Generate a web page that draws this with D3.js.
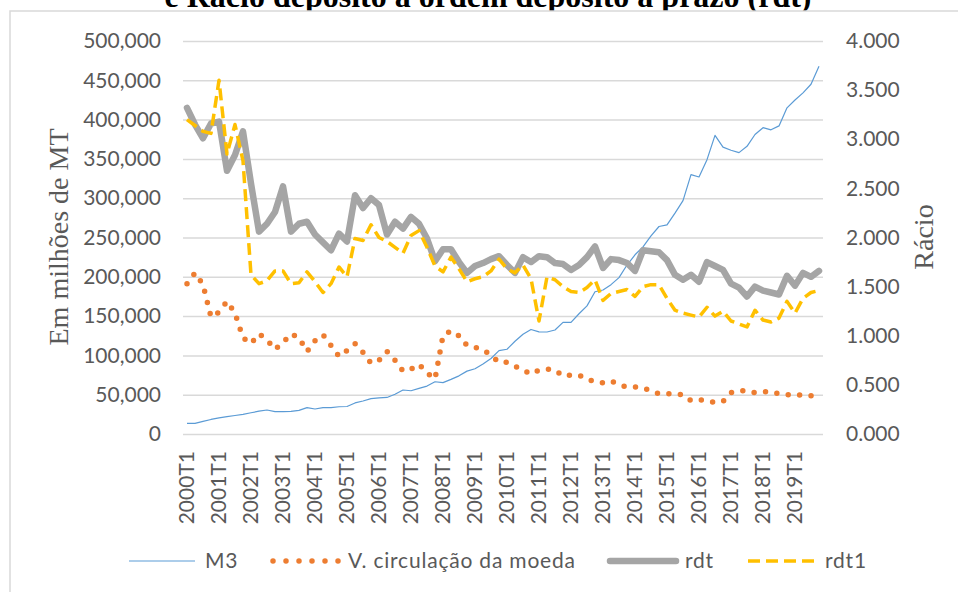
<!DOCTYPE html>
<html>
<head>
<meta charset="utf-8">
<script src="https://cdn.jsdelivr.net/npm/d3@7"></script>
<style>
  body { margin: 0; background: #fff; }
  svg { display: block; }
</style>
</head>
<body>
<div id="chart"></div>
<script>

// quarters 2000T1 .. 2019T4
var years = d3.range(2000, 2020);
var quarters = [];
years.forEach(function(yr) {
  ["T1", "T2", "T3", "T4"].forEach(function(q) { quarters.push(yr + q); });
});

// M3, em milhões de MT (eixo esquerdo)
var m3 = [13600,13600,16000,18500,20500,22000,23500,25000,27000,29000,
          30500,28500,28500,28800,30000,33500,31800,33500,33500,34700,
          35000,39500,42000,45000,46000,46500,50500,56000,55000,58000,
          61000,66500,65300,69500,74000,80000,83000,89000,96000,106000,
          107800,118000,127000,133000,130000,129800,132300,142000,142100,153000,
          163000,181000,183200,190000,199000,215000,228000,238000,252000,264000,
          266000,281000,297000,330000,327000,349000,380000,365000,361000,358000,
          366000,381000,389700,387000,392000,415000,425000,434000,445000,468000];

// velocidade de circulação da moeda (eixo direito)
var velocidade = [1.53,1.64,1.52,1.19,1.24,1.35,1.23,0.98,0.92,1.02,
                  0.96,0.86,0.93,1.02,0.98,0.84,0.95,1.01,0.90,0.79,
                  0.85,0.92,0.83,0.72,0.75,0.84,0.75,0.64,0.66,0.71,
                  0.62,0.56,1.00,1.05,1.00,0.90,0.88,0.86,0.80,0.73,
                  0.73,0.69,0.65,0.61,0.65,0.66,0.65,0.59,0.60,0.60,
                  0.56,0.53,0.52,0.54,0.50,0.48,0.48,0.47,0.44,0.41,
                  0.41,0.41,0.40,0.34,0.35,0.34,0.32,0.33,0.42,0.44,
                  0.44,0.42,0.43,0.43,0.41,0.40,0.39,0.40,0.39,0.37];

// rácio depósito à ordem / depósito a prazo
var rdt = [3.32,3.15,3.01,3.16,3.18,2.68,2.84,3.08,2.55,2.06,
           2.14,2.26,2.52,2.06,2.14,2.16,2.03,1.95,1.87,2.04,
           1.96,2.43,2.30,2.40,2.33,2.03,2.16,2.09,2.21,2.14,
           1.99,1.76,1.88,1.88,1.75,1.64,1.71,1.74,1.78,1.81,
           1.72,1.64,1.80,1.75,1.81,1.80,1.74,1.73,1.67,1.72,
           1.80,1.91,1.69,1.78,1.77,1.74,1.66,1.87,1.86,1.85,
           1.77,1.62,1.57,1.62,1.55,1.75,1.71,1.67,1.53,1.49,
           1.40,1.50,1.46,1.44,1.42,1.61,1.51,1.64,1.60,1.66];

var rdt1 = [3.20,3.14,3.08,3.06,3.60,2.85,3.15,2.78,1.62,1.53,
            1.56,1.66,1.66,1.53,1.54,1.65,1.55,1.44,1.53,1.70,
            1.60,1.99,1.97,2.13,2.00,1.96,1.90,1.84,2.02,2.07,
            1.90,1.71,1.65,1.80,1.68,1.55,1.58,1.60,1.66,1.78,
            1.68,1.64,1.72,1.58,1.15,1.60,1.57,1.50,1.45,1.44,
            1.49,1.57,1.36,1.43,1.45,1.47,1.40,1.50,1.52,1.52,
            1.38,1.26,1.23,1.21,1.19,1.29,1.20,1.25,1.15,1.12,
            1.09,1.26,1.16,1.14,1.18,1.35,1.23,1.38,1.44,1.46];

var leftTicks = [0,50000,100000,150000,200000,250000,300000,350000,400000,450000,500000];
var rightTicks = [0,0.5,1,1.5,2,2.5,3,3.5,4];
var xTicks = years.map(function(yr) { return yr + "T1"; });

var W = 958, H = 592;
var plot = {left: 183, right: 823, top: 41, bottom: 434};
var labelFont = "Lato, 'Open Sans', sans-serif";
var grey = "#595959";

var svg = d3.select("#chart")
  .append("svg")
    .attr("width", W)
    .attr("height", H);

// title, bottom line only (top is cut off in the source)
svg.append("text")
  .attr("x", 488)
  .attr("y", 7)
  .attr("text-anchor", "middle")
  .style("font-family", "'Liberation Serif', 'Times New Roman', serif")
  .style("font-weight", "bold")
  .style("font-size", "32px")
  .text("e Rácio depósito à ordem depósito a prazo (rdt)");

// chart frame
svg.append("rect")
  .attr("x", 10).attr("y", 11)
  .attr("width", 1000).attr("height", 1000)
  .attr("fill", "#fff")
  .attr("stroke", "#d9d9d9")
  .attr("stroke-width", 1.5);

var x = d3.scaleBand()
  .domain(quarters)
  .range([plot.left, plot.right]);

var yLeft = d3.scaleLinear()
  .domain([0, 500000])
  .range([plot.bottom, plot.top]);

var yRight = d3.scaleLinear()
  .domain([0, 4])
  .range([plot.bottom, plot.top]);

function cx(d, i) { return x(quarters[i]) + x.bandwidth() / 2; }

// left axis + gridlines
var gl = svg.append("g")
  .attr("transform", "translate(" + plot.left + ",0)")
  .call(d3.axisLeft(yLeft)
    .tickValues(leftTicks)
    .tickSize(-(plot.right - plot.left))
    .tickPadding(22)
    .tickFormat(d3.format(",")));
gl.select(".domain").remove();
gl.selectAll("line").attr("stroke", "#d9d9d9").attr("stroke-width", 1.5);
gl.selectAll("text")
  .style("font-family", labelFont).style("font-size", "21px").attr("fill", grey);

// right axis
var gr = svg.append("g")
  .attr("transform", "translate(" + plot.right + ",0)")
  .call(d3.axisRight(yRight)
    .tickValues(rightTicks)
    .tickSize(0)
    .tickPadding(23)
    .tickFormat(d3.format(".3f")));
gr.select(".domain").remove();
gr.selectAll("text")
  .style("font-family", labelFont).style("font-size", "21px").attr("fill", grey);

// x axis, rotated labels
var gx = svg.append("g")
  .attr("transform", "translate(0," + plot.bottom + ")")
  .call(d3.axisBottom(x).tickValues(xTicks).tickSize(0));
gx.select(".domain").remove();
gx.selectAll("text")
  .attr("transform", "rotate(-90)")
  .attr("x", -17)
  .attr("y", 0)
  .attr("dy", "0.35em")
  .style("text-anchor", "end")
  .style("font-family", labelFont).style("font-size", "21px").attr("fill", grey);

// axis titles
svg.append("text")
  .attr("transform", "translate(68,237) rotate(-90)")
  .attr("text-anchor", "middle")
  .style("font-family", "'Liberation Serif', serif")
  .style("font-size", "28px")
  .attr("fill", grey)
  .text("Em milhões de MT");

svg.append("text")
  .attr("transform", "translate(933,237) rotate(-90)")
  .attr("text-anchor", "middle")
  .style("font-family", "'Liberation Serif', serif")
  .style("font-size", "28px")
  .attr("fill", grey)
  .text("Rácio");

// series
var series = [
  {name: "M3", data: m3, y: yLeft, color: "#5b9bd5", width: 1.2, dash: null, cap: "butt"},
  {name: "V. circulação da moeda", data: velocidade, y: yRight, color: "#ed7d31", width: 5.5, dash: "0,11.5", cap: "round"},
  {name: "rdt", data: rdt, y: yRight, color: "#a5a5a5", width: 6.5, dash: null, cap: "round"},
  {name: "rdt1", data: rdt1, y: yRight, color: "#ffc000", width: 3.5, dash: "12,6", cap: "butt"}
];

series.forEach(function(s) {
  svg.append("path")
    .datum(s.data)
    .attr("fill", "none")
    .attr("stroke", s.color)
    .attr("stroke-width", s.width)
    .attr("stroke-linecap", s.cap)
    .attr("stroke-linejoin", "round")
    .attr("stroke-dasharray", s.dash)
    .attr("d", d3.line()
      .x(cx)
      .y(function(d) { return s.y(d); }));
});

// legend
var legendPos = [
  {x1: 129, x2: 195, tx: 205},
  {x1: 273, x2: 340, tx: 348},
  {x1: 610, x2: 676, tx: 685},
  {x1: 748, x2: 818, tx: 825}
];
var legendY = 561;
series.forEach(function(s, i) {
  var p = legendPos[i];
  svg.append("line")
    .attr("x1", p.x1).attr("x2", p.x2)
    .attr("y1", legendY).attr("y2", legendY)
    .attr("stroke", s.color)
    .attr("stroke-width", s.width)
    .attr("stroke-linecap", s.cap)
    .attr("stroke-dasharray", s.name == "V. circulação da moeda" ? "0,13" : s.dash);
  svg.append("text")
    .attr("x", p.tx).attr("y", legendY)
    .attr("dy", "0.35em")
    .style("font-family", labelFont).style("font-size", "21px")
    .style("letter-spacing", "0.8px")
    .attr("fill", grey)
    .text(s.name);
});

</script>
</body>
</html>
